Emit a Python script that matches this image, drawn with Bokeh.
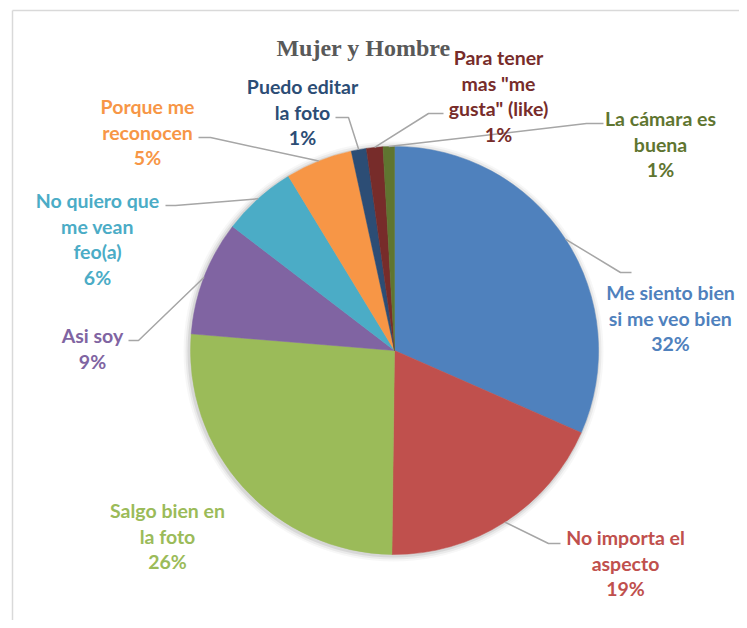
import math
from bokeh.plotting import figure
from bokeh.embed import file_html
from bokeh.resources import INLINE
from bokeh.core.properties import value

# ---- data ----
categories = [
    "Me siento bien\nsi me veo bien",
    "No importa el\naspecto",
    "Salgo bien en\nla foto",
    "Asi soy",
    "No quiero que\nme vean\nfeo(a)",
    "Porque me\nreconocen",
    "Puedo editar\nla foto",
    "Para tener\nmas \"me\ngusta\" (like)",
    "La cámara es\nbuena",
]
shares = [31.6, 18.6, 26.1, 9.1, 5.9, 5.3, 1.2, 1.3, 0.9]
colors = ["#4F81BD", "#C0504D", "#9BBB59", "#8064A2", "#4BACC6",
          "#F79646", "#2C4D75", "#772C2A", "#5F7530"]
title_text = "Mujer y Hombre"

# ---- layout (image pixel coordinates) ----
W, H = 739, 620
def X(px): return px
def Y(py): return H - py

CX, CY, R = 394, 350, 204
# label centre x, first line y
label_pos = [(670, 292), (625, 537), (167, 510), (92, 335), (97, 200),
             (147, 106), (302, 86), (498, 57), (660, 118)]
# leader elbow and end (None = no leader)
leaders = [((620, 272), (631, 272)), ((548, 543), (560, 543)), None,
           ((138, 340), (128, 340)), ((175, 205), (165, 205)),
           ((210, 137), (198, 137)), ((348, 117), (335, 117)),
           ((428, 113), (443, 113)), ((586, 123), (603, 123))]
LINE_H = 25.7

p = figure(width=W, height=H, x_range=(0, W), y_range=(0, H),
           output_backend="svg", toolbar_location=None, min_border=0)
p.axis.visible = False
p.grid.visible = False
p.outline_line_color = None
p.background_fill_color = "white"
p.border_fill_color = "white"

# chart frame (left and top edges visible)
p.segment(x0=[X(12), X(12)], y0=[Y(10), Y(10)], x1=[X(12), X(760)], y1=[Y(640), Y(10)],
          line_color="#D9D9D9", line_width=1.5)

# soft shadow
for k, a in [(6, 0.03), (4, 0.05), (2, 0.08)]:
    p.circle(x=[X(CX) - 1], y=[Y(CY) - 1], radius=R + k, fill_color="black",
             fill_alpha=a, line_color=None)

total = sum(shares)
cum = 0.0
starts, ends, mids = [], [], []
for v in shares:
    a0 = math.pi / 2 - 2 * math.pi * cum / total
    cum += v
    a1 = math.pi / 2 - 2 * math.pi * cum / total
    starts.append(a0)
    ends.append(a1)
    mids.append((a0 + a1) / 2)

p.wedge(x=[X(CX)] * len(shares), y=[Y(CY)] * len(shares), radius=R,
        start_angle=starts, end_angle=ends, direction="clock",
        fill_color=colors, line_color=colors, line_width=0.5)

# leader lines
lx, ly = [], []
for m, ld in zip(mids, leaders):
    if ld is None:
        continue
    sx = X(CX) + R * math.cos(m)
    sy = Y(CY) + R * math.sin(m)
    (ex, ey), (tx, ty) = ld
    lx.append([sx, X(ex), X(tx)])
    ly.append([sy, Y(ey), Y(ty)])
p.multi_line(xs=lx, ys=ly, line_color="#A6A6A6", line_width=1.5)

# labels
tx, ty, tt, tc = [], [], [], []
for cat, v, col, (cx, y0) in zip(categories, shares, colors, label_pos):
    lines = cat.split("\n") + [f"{round(v / total * 100)}%"]
    for i, ln in enumerate(lines):
        tx.append(X(cx))
        ty.append(Y(y0 + i * LINE_H))
        tt.append(ln)
        tc.append(col)
p.text(x=tx, y=ty, text=tt, text_color=tc, text_align="center",
       text_baseline="middle", text_font=value("Lato"), text_font_style="bold",
       text_font_size="19.5px")

# title
p.text(x=[X(363)], y=[Y(47)], text=[title_text], text_align="center",
       text_baseline="alphabetic", text_font=value("Liberation Serif"),
       text_font_style="bold", text_font_size="24px", text_color="#595959")

open("out.html", "w").write(file_html(p, INLINE))
